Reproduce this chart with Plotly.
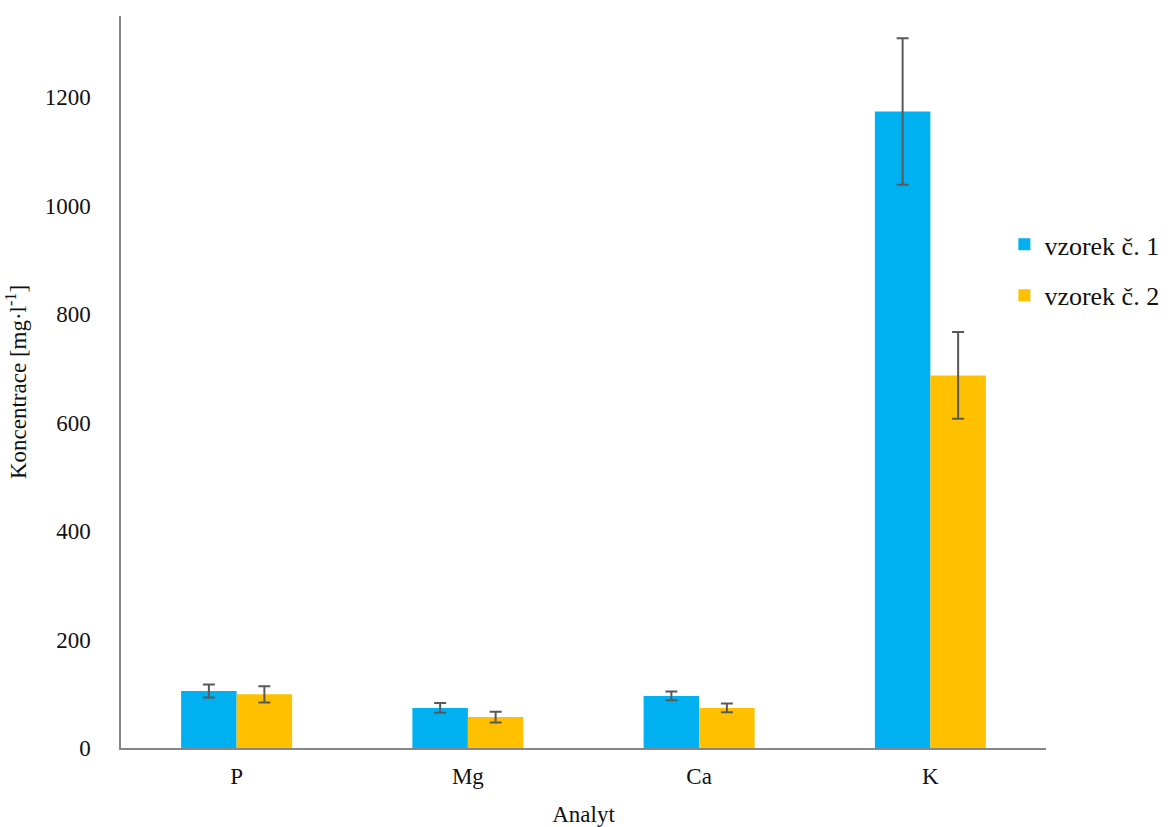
import plotly.graph_objects as go

analytes = ["P", "Mg", "Ca", "K"]
sample1 = [105, 74, 96, 1174]
sample1_err = [12, 9, 8, 135]
sample2 = [99, 57, 74, 687]
sample2_err = [15, 10, 8, 80]
y_ticks = [0, 200, 400, 600, 800, 1000, 1200]

font_family = "Liberation Serif"
err_style = dict(type="data", color="#595959", thickness=2, width=6)

fig = go.Figure()
fig.add_trace(go.Bar(
    name="vzorek č. 1", x=analytes, y=sample1, legendgroup="s1",
    marker=dict(color="#00B0F0", line=dict(width=0)),
    error_y=dict(array=sample1_err, **err_style),
))
fig.add_trace(go.Bar(
    name="vzorek č. 2", x=analytes, y=sample2, legendgroup="s2",
    marker=dict(color="#FFC000", line=dict(width=0)),
    error_y=dict(array=sample2_err, **err_style),
))

fig.update_layout(
    width=1170, height=827,
    margin=dict(l=121, r=124, t=16, b=79, autoexpand=False),
    paper_bgcolor="white", plot_bgcolor="white",
    barmode="group", bargap=0.52, bargroupgap=0,
    font=dict(family=font_family, size=23, color="#111111"),
    legend=dict(
        x=0.955, y=0.72, xanchor="left", yanchor="top",
        font=dict(size=26, family=font_family),
        itemwidth=30, tracegroupgap=14, bgcolor="rgba(0,0,0,0)",
    ),
    showlegend=True,
)
fig.update_xaxes(
    showline=True, linecolor="#868686", linewidth=2,
    showgrid=False, ticks="", ticklabelstandoff=6,
    title=dict(text="Analyt", font=dict(size=23), standoff=18),
)
fig.update_yaxes(
    range=[0, 1350], tickvals=y_ticks,
    showline=True, linecolor="#868686", linewidth=1.5,
    showgrid=False, zeroline=False, ticks="", ticklabelstandoff=24,
    title=dict(text="Koncentrace [mg·l<sup>-1</sup>]", font=dict(size=23), standoff=12),
)

fig.write_html("out.html")
